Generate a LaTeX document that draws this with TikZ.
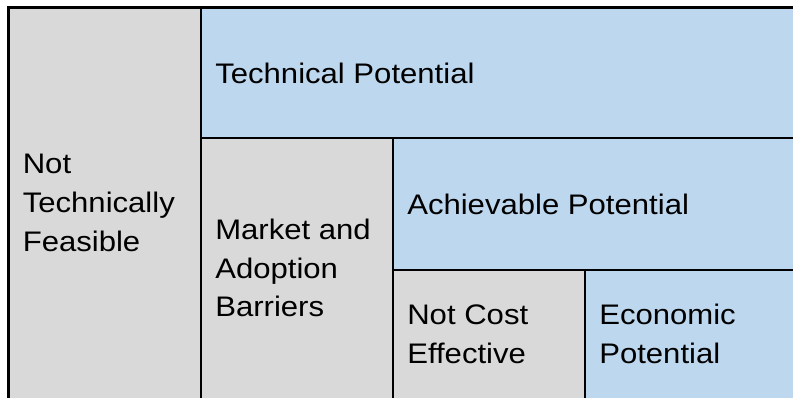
\documentclass[tikz,border=0pt]{standalone}
\usepackage{fontspec}
\setmainfont{Liberation Sans}[FakeStretch=1.1]
\usepackage{tikz}

\definecolor{cellgrey}{HTML}{D9D9D9}
\definecolor{cellblue}{HTML}{BDD7EE}

\begin{document}
\begin{tikzpicture}[x=0.75pt, y=-0.75pt,
    greycell/.style = {draw, line width=2.2pt, fill=cellgrey},
    bluecell/.style = {draw, line width=2.2pt, fill=cellblue},
    lbl/.style = {anchor=west, inner sep=0pt, align=left,
                  font=\fontsize{21.2}{29}\selectfont}]

    \useasboundingbox (0,0) rectangle (793,398);

    % Cells (right and bottom edges fall outside the page)
    \draw[greycell] (8.5,7.5) rectangle (805,410);
    \draw[bluecell] (201,7.5) rectangle (805,138);
    \draw[greycell] (201,138) rectangle (393,410);
    \draw[bluecell] (393,138) rectangle (805,270);
    \draw[greycell] (393,270) rectangle (585,410);
    \draw[bluecell] (585,270) rectangle (805,410);

    % Labels
    \node[lbl] (infeasible) at (22.5,203) {Not\\Technically\\Feasible};
    \node[lbl] (technical) at (215,73) {Technical Potential};
    \node[lbl] (barriers) at (215,268) {Market and\\Adoption\\Barriers};
    \node[lbl] (achievable) at (407,204) {Achievable Potential};
    \node[lbl] (costly) at (407,334) {Not Cost\\Effective};
    \node[lbl] (economic) at (599,334) {Economic\\Potential};

\end{tikzpicture}
\end{document}
